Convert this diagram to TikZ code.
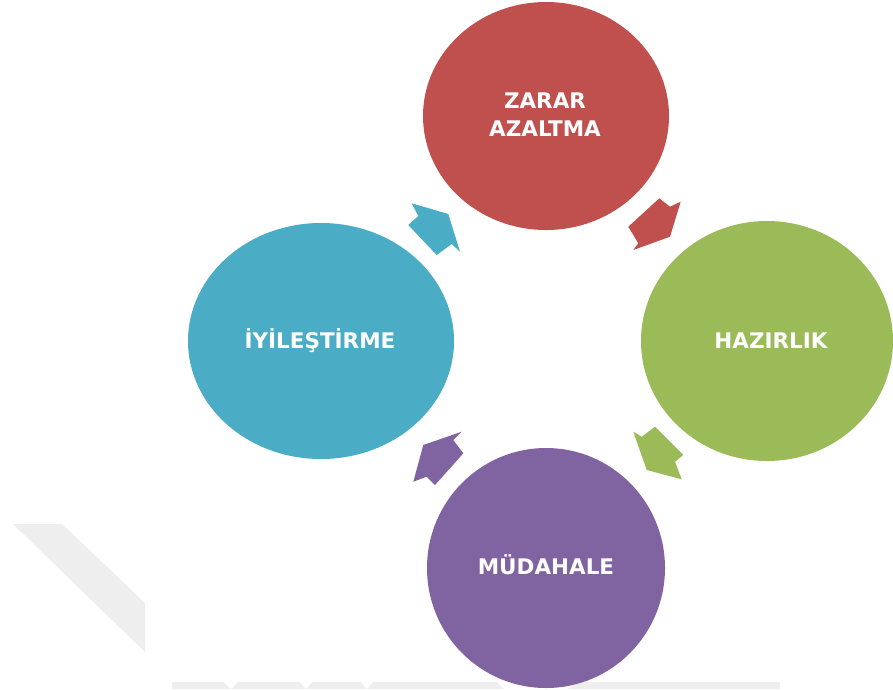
\documentclass[tikz,border=0pt]{standalone}
\usepackage{fontspec}
\usetikzlibrary{shapes.geometric}
\newfontfamily\labfont{DejaVu Sans}
\definecolor{cred}{HTML}{C0504D}
\definecolor{cgreen}{HTML}{9BBB59}
\definecolor{cpurple}{HTML}{8064A2}
\definecolor{cblue}{HTML}{4BACC6}
\definecolor{wm}{HTML}{EEEEEE}
\tikzset{
  phase/.style={ellipse, draw=none, inner sep=0pt, text=white,
    font=\labfont\bfseries\fontsize{21.5}{28}\selectfont, align=center},
  blockarrow/.style={draw=none}
}
\begin{document}
\begin{tikzpicture}[x=1pt,y=-1pt]
\useasboundingbox (0,0) rectangle (893,689);
\fill[white] (0,0) rectangle (893,689);
\clip (0,0) rectangle (893,689);
% faint watermark
\fill[wm] (13,524) -- (62,524) -- (145,603) -- (145,652) -- cycle;
\fill[wm] (172,682) -- (780,682) -- (780,689) -- (172,689) -- cycle;
\fill[white] (224,682) -- (238,682) -- (231,689) -- cycle;
\fill[white] (300,682) -- (312,682) -- (306,689) -- cycle;
\fill[white] (361,682) -- (373,682) -- (367,689) -- cycle;
\fill[white] (497,682) -- (575,682) -- (568,689) -- (504,689) -- cycle;
% phases
\node[phase, fill=cred, minimum width=246pt, minimum height=228pt] (zarar) at (546,116) {};
\node[phase, fill=cgreen, minimum width=252pt, minimum height=240pt] (hazir) at (767,341) {};
\node[phase, fill=cpurple, minimum width=238pt, minimum height=240pt] (mud) at (546,568) {};
\node[phase, fill=cblue, minimum width=266pt, minimum height=236pt] (iyi) at (321,341) {};
\node[phase] (tzarar) at (545,115) {ZARAR\\AZALTMA};
\node[phase] (thazir) at (771,341) {HAZIRLIK};
\node[phase] (tmud) at (546,565) {MÜDAHALE};
\node[phase] (tiyi) at (320,341) {İYİLEŞTİRME};
% block arrows
\fill[cblue, blockarrow] (411.7,203.3) -- (448.3,214) -- (460,251.7) -- (451.7,244) -- (436.7,255) -- (408.3,225) -- (418.3,216) -- cycle;
\fill[cred, blockarrow] (659.3,198.3) -- (670,206.7) -- (680.7,201.7) -- (670,236.7) -- (633.3,250) -- (638.3,243.3) -- (628.3,226.7) -- cycle;
\fill[cgreen, blockarrow] (633.3,431.7) -- (641.7,436.7) -- (655,426.7) -- (683.3,455) -- (675,461.7) -- (681.7,479.3) -- (646.7,470) -- cycle;
\fill[cpurple, blockarrow] (461.7,431.7) -- (453.3,440) -- (463.3,453.3) -- (435,485) -- (426.7,476.7) -- (413.3,481.7) -- (423.3,445) -- cycle;
\end{tikzpicture}
\end{document}
